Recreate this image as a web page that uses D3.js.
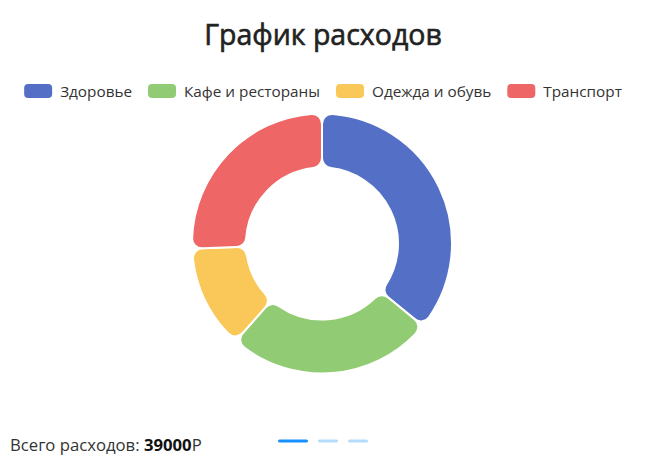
<!DOCTYPE html>
<html><head><meta charset="utf-8">
<script src="https://cdn.jsdelivr.net/npm/d3@7"></script>
<style>html,body{margin:0;padding:0;background:#fff;} svg{display:block;}</style>
</head><body>
<svg id="chart" width="646" height="467"></svg>
<script>
const title = "График расходов";
const categories = ["Здоровье", "Кафе и рестораны", "Одежда и обувь", "Транспорт"];
const values = [14000, 10000, 5000, 10000];
const colors = ["#5470c6", "#91cc75", "#fac858", "#ee6666"];
const totalLabel = "Всего расходов: ";
const currency = "Р";

const W = 646, H = 467;
const FONT = "'Open Sans', 'Noto Sans', sans-serif";
const svg = d3.select("#chart");

// title
svg.append("text").attr("x", 323).attr("y", 45)
  .attr("text-anchor", "middle").attr("font-family", FONT)
  .attr("font-size", 28.5).attr("font-weight", 400).attr("fill", "#222")
  .attr("stroke", "#222").attr("stroke-width", 0.6)
  .text(title);

// legend
const leg = svg.append("g");
let x = 0;
const swW = 28, swH = 14, gapT = 8, gapI = 16;
categories.forEach((c, i) => {
  const g = leg.append("g").attr("transform", `translate(${x},0)`);
  g.append("rect").attr("x", 0).attr("y", -swH/2).attr("width", swW).attr("height", swH)
    .attr("rx", 4).attr("fill", colors[i]);
  const t = g.append("text").attr("x", swW + gapT).attr("y", 5.5)
    .attr("font-family", FONT).attr("font-size", 15.3).attr("fill", "#333").text(c);
  x += swW + gapT + t.node().getComputedTextLength() + gapI;
});
x -= gapI;
leg.attr("transform", `translate(${(W - x)/2},91)`);

// donut
const cx = 322, cy = 243.5, rOuter = 130, rInner = 76;
const pie = d3.pie().sort(null).value(d => d);
const arc = d3.arc().innerRadius(rInner).outerRadius(rOuter).cornerRadius(10);
svg.append("g").attr("transform", `translate(${cx},${cy})`)
  .selectAll("path").data(pie(values)).join("path")
  .attr("d", arc).attr("fill", (d, i) => colors[i])
  .attr("stroke", "#fff").attr("stroke-width", 2).attr("stroke-linejoin", "round");

// total
const total = d3.sum(values);
const tt = svg.append("text").attr("x", 10).attr("y", 451)
  .attr("font-family", FONT).attr("font-size", 16.7).attr("fill", "#333");
tt.append("tspan").text(totalLabel);
tt.append("tspan").attr("font-weight", 700).attr("fill", "#111").text(total);
tt.append("tspan").text(currency);

// pagination
const pages = [{w:30, c:"#1890ff"}, {w:20, c:"#b6dbfb"}, {w:20, c:"#b6dbfb"}];
let px = 278;
pages.forEach(p => {
  svg.append("rect").attr("x", px).attr("y", 439.5).attr("width", p.w).attr("height", 3)
    .attr("rx", 1.5).attr("fill", p.c);
  px += p.w + 10;
});
</script>
</body></html>
